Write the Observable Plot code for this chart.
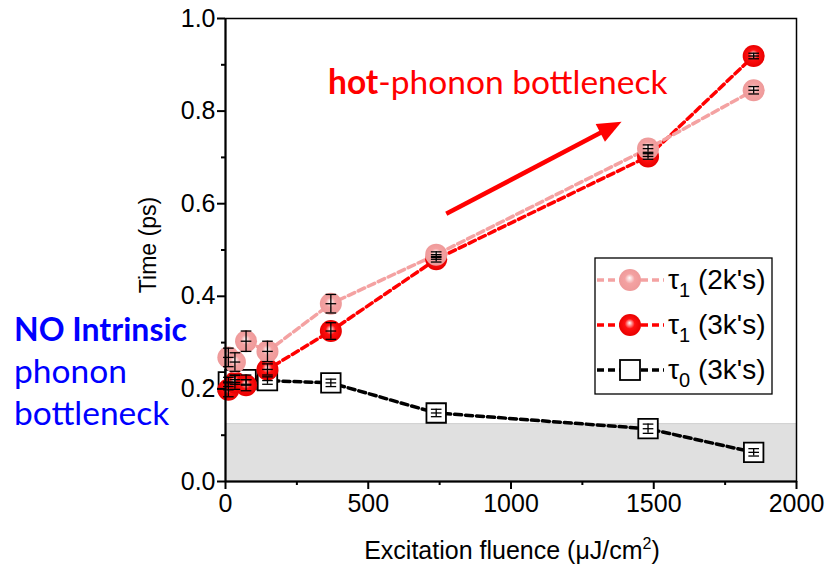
<!DOCTYPE html>
<html>
<head>
<meta charset="utf-8">
<script src="https://cdn.jsdelivr.net/npm/d3@7"></script>
<script src="https://cdn.jsdelivr.net/npm/@observablehq/plot@0.6"></script>
<style>
  html, body { margin: 0; padding: 0; background: #fff; }
  #chart { position: relative; width: 826px; height: 568px; }
</style>
</head>
<body>
<div id="chart"></div>
<script>
// ---- data ----
const fluence = [10, 33, 72, 147, 369, 738, 1480, 1850];
const tau1_2k = [0.268, 0.258, 0.303, 0.281, 0.384, 0.490, 0.719, 0.845];
const tau1_2kErr = [0.02, 0.02, 0.022, 0.022, 0.02, 0.006, 0.008, 0.008];
const tau1_3k = [0.198, 0.214, 0.208, 0.242, 0.325, 0.480, 0.702, 0.919];
const tau1_3kErr = [0.015, 0.015, 0.012, 0.012, 0.018, 0.006, 0.006, 0.006];
const tau0_3k = [0.215, 0.22, 0.22, 0.218, 0.213, 0.148, 0.114, 0.063];
const tau0_3kErr = [0.01, 0.01, 0.01, 0.008, 0.008, 0.008, 0.01, 0.008];
const shadedBand = [0, 0.125];
const xTicks = [0, 500, 1000, 1500, 2000];
const xMinor = [250, 750, 1250, 1750];
const yTicks = [0, 0.2, 0.4, 0.6, 0.8, 1.0];
const yMinor = [0.1, 0.3, 0.5, 0.7, 0.9];
const arrowFrom = [775, 0.577];
const arrowTo = [1389, 0.776];

const mk = (ys, es) => fluence.map((x, i) => ({x, y: ys[i], e: es[i]}));
const s2k = mk(tau1_2k, tau1_2kErr);
const s3k = mk(tau1_3k, tau1_3kErr);
const s0 = mk(tau0_3k, tau0_3kErr);

const PINK = "#f4a2a2", RED = "#ff0000";
const dash = "7,4";
const ARIAL = "Liberation Sans";
const CAL = "Lato";

const capSymbol = { draw(ctx, size) { const w = Math.sqrt(size) / 2; ctx.moveTo(-w, 0); ctx.lineTo(w, 0); } };

function errMarks(data) {
  return [
    Plot.ruleX(data, {x: "x", y1: d => d.y - d.e, y2: d => d.y + d.e, stroke: "#000", strokeWidth: 1.3}),
    Plot.dot(data, {x: "x", y: d => d.y - d.e, symbol: capSymbol, r: 6, stroke: "#000", strokeWidth: 1.3, fill: "none"}),
    Plot.dot(data, {x: "x", y: d => d.y + d.e, symbol: capSymbol, r: 6, stroke: "#000", strokeWidth: 1.3, fill: "none"}),
    Plot.dot(data, {x: "x", y: "y", symbol: capSymbol, r: 6, stroke: "#000", strokeWidth: 1.3, fill: "none"})
  ];
}

const plot = Plot.plot({
  width: 826, height: 568,
  marginLeft: 225, marginRight: 30, marginTop: 18, marginBottom: 87,
  x: {domain: [0, 2000]},
  y: {domain: [0, 1]},
  style: {fontFamily: ARIAL, fontSize: "25px", color: "#000", background: "#fff", overflow: "visible"},
  marks: [
    Plot.rect([shadedBand], {x1: 0, x2: 2000, y1: d => d[0], y2: d => d[1], fill: "#e0e0e0"}),
    Plot.ruleY([shadedBand[1]], {stroke: "#d0d0d0", strokeWidth: 1}),
    Plot.line(s0, {x: "x", y: "y", stroke: "#000", strokeWidth: 3.5, strokeDasharray: dash}),
    Plot.line(s3k, {x: "x", y: "y", stroke: RED, strokeWidth: 3.5, strokeDasharray: dash}),
    Plot.line(s2k, {x: "x", y: "y", stroke: PINK, strokeWidth: 3.5, strokeDasharray: dash}),
    Plot.dot(s0, {x: "x", y: "y", symbol: "square", r: 11, fill: "#fff", stroke: "#000", strokeWidth: 1.8}),
    Plot.dot(s3k, {x: "x", y: "y", r: 11, fill: "url(#gradRed)", stroke: "none"}),
    Plot.dot(s2k, {x: "x", y: "y", r: 11, fill: "url(#gradPink)", stroke: "none"}),
    ...errMarks(s0), ...errMarks(s3k), ...errMarks(s2k),
    Plot.frame({stroke: "#000", strokeWidth: 1.5}),
    Plot.axisX({ticks: xTicks, tickSize: 8, tickPadding: 5, strokeWidth: 2, label: null, tickFormat: d3.format("d")}),
    Plot.axisX({ticks: xMinor, tickSize: 4, strokeWidth: 2, label: null, tickFormat: () => ""}),
    Plot.axisY({ticks: yTicks, tickSize: 8, tickPadding: 2, strokeWidth: 2, label: null, tickFormat: d3.format(".1f")}),
    Plot.axisY({ticks: yMinor, tickSize: 4, strokeWidth: 2, label: null, tickFormat: () => ""}),
    Plot.ruleX([0], {stroke: "#000", strokeWidth: 2}),
    Plot.ruleY([0], {stroke: "#000", strokeWidth: 2})
  ]
});

document.getElementById("chart").appendChild(plot);
const svg = d3.select(plot);
svg.selectAll("text").attr("font-size", 25).style("font-size", "25px").style("font-family", ARIAL);
const xs = plot.scale("x"), ys = plot.scale("y");

// gradients for sphere markers
const defs = svg.insert("defs", ":first-child");
function grad(id, hi, base, edge) {
  const g = defs.append("radialGradient").attr("id", id).attr("cx", "50%").attr("cy", "50%").attr("r", "50%").attr("fx", "48%").attr("fy", "40%");
  g.append("stop").attr("offset", "0%").attr("stop-color", hi);
  g.append("stop").attr("offset", "45%").attr("stop-color", base);
  g.append("stop").attr("offset", "100%").attr("stop-color", edge);
}
grad("gradPink", "#ffffff", PINK, "#ee9a9a");
grad("gradRed", "#ffffff", "#ff1010", "#e80000");

// arrow
const ax1 = xs.apply(arrowFrom[0]), ay1 = ys.apply(arrowFrom[1]);
const ax2 = xs.apply(arrowTo[0]), ay2 = ys.apply(arrowTo[1]);
const ang = Math.atan2(ay2 - ay1, ax2 - ax1);
svg.append("line").attr("x1", ax1).attr("y1", ay1)
  .attr("x2", ax2 - 20 * Math.cos(ang)).attr("y2", ay2 - 20 * Math.sin(ang))
  .attr("stroke", RED).attr("stroke-width", 4.5);
const hl = 24, hw = 10;
const bx = ax2 - hl * Math.cos(ang), by = ay2 - hl * Math.sin(ang);
const px = -Math.sin(ang), py = Math.cos(ang);
svg.append("path").attr("d", `M${ax2},${ay2} L${bx + hw * px},${by + hw * py} L${bx - hw * px},${by - hw * py} Z`).attr("fill", RED);

// annotations
const anno = svg.append("text").attr("x", 328).attr("y", 94).attr("fill", RED).attr("text-anchor", "start")
  .style("font-family", CAL).style("font-size", "33.5px");
anno.append("tspan").attr("font-weight", "bold").text("hot");
anno.append("tspan").text("-phonon bottleneck");

const blue = "#0000ff";
[["NO Intrinsic", 341, "bold", 32], ["phonon", 383, "normal", 33.5], ["bottleneck", 425, "normal", 33.5]].forEach(([t, y, w, fs]) => {
  svg.append("text").attr("x", 14).attr("y", y).attr("fill", blue).attr("font-weight", w).attr("text-anchor", "start")
    .style("font-family", CAL).style("font-size", fs + "px").text(t);
});

// axis labels
svg.append("text").attr("transform", "translate(156,245) rotate(-90)").attr("text-anchor", "middle")
  .style("font-size", "23px").style("font-family", ARIAL).text("Time (ps)");
const xl = svg.append("text").attr("x", 512).attr("y", 559).attr("text-anchor", "middle")
  .style("font-size", "25px").style("font-family", ARIAL);
xl.append("tspan").text("Excitation fluence (\u03bcJ/cm");
xl.append("tspan").style("font-size", "16px").attr("dy", -10).text("2");
xl.append("tspan").attr("dy", 10).text(")");

// legend
const lg = svg.append("g");
lg.append("rect").attr("x", 595).attr("y", 258).attr("width", 177).attr("height", 136)
  .attr("fill", "#fff").attr("stroke", "#000").attr("stroke-width", 1.3);
const rows = [
  {y: 280, color: PINK, kind: "pink", sub: "1", lab: " (2k's)"},
  {y: 325, color: RED, kind: "red", sub: "1", lab: " (3k's)"},
  {y: 370, color: "#000", kind: "sq", sub: "0", lab: " (3k's)"}
];
rows.forEach(r => {
  lg.append("line").attr("x1", 597).attr("x2", 664).attr("y1", r.y).attr("y2", r.y)
    .attr("stroke", r.color).attr("stroke-width", 3.5).attr("stroke-dasharray", dash);
  if (r.kind === "sq") {
    lg.append("rect").attr("x", 620).attr("y", r.y - 10).attr("width", 20).attr("height", 20)
      .attr("fill", "#fff").attr("stroke", "#000").attr("stroke-width", 1.8);
  } else {
    lg.append("circle").attr("cx", 630).attr("cy", r.y).attr("r", 11)
      .attr("fill", r.kind === "pink" ? "url(#gradPink)" : "url(#gradRed)");
  }
  const t = lg.append("text").attr("x", 668).attr("y", r.y + 9).attr("text-anchor", "start")
    .style("font-size", "28px").style("font-family", ARIAL);
  t.append("tspan").text("\u03c4");
  t.append("tspan").style("font-size", "20px").attr("dy", 8).text(r.sub);
  t.append("tspan").attr("dy", -8).text(r.lab);
});
</script>
</body>
</html>
